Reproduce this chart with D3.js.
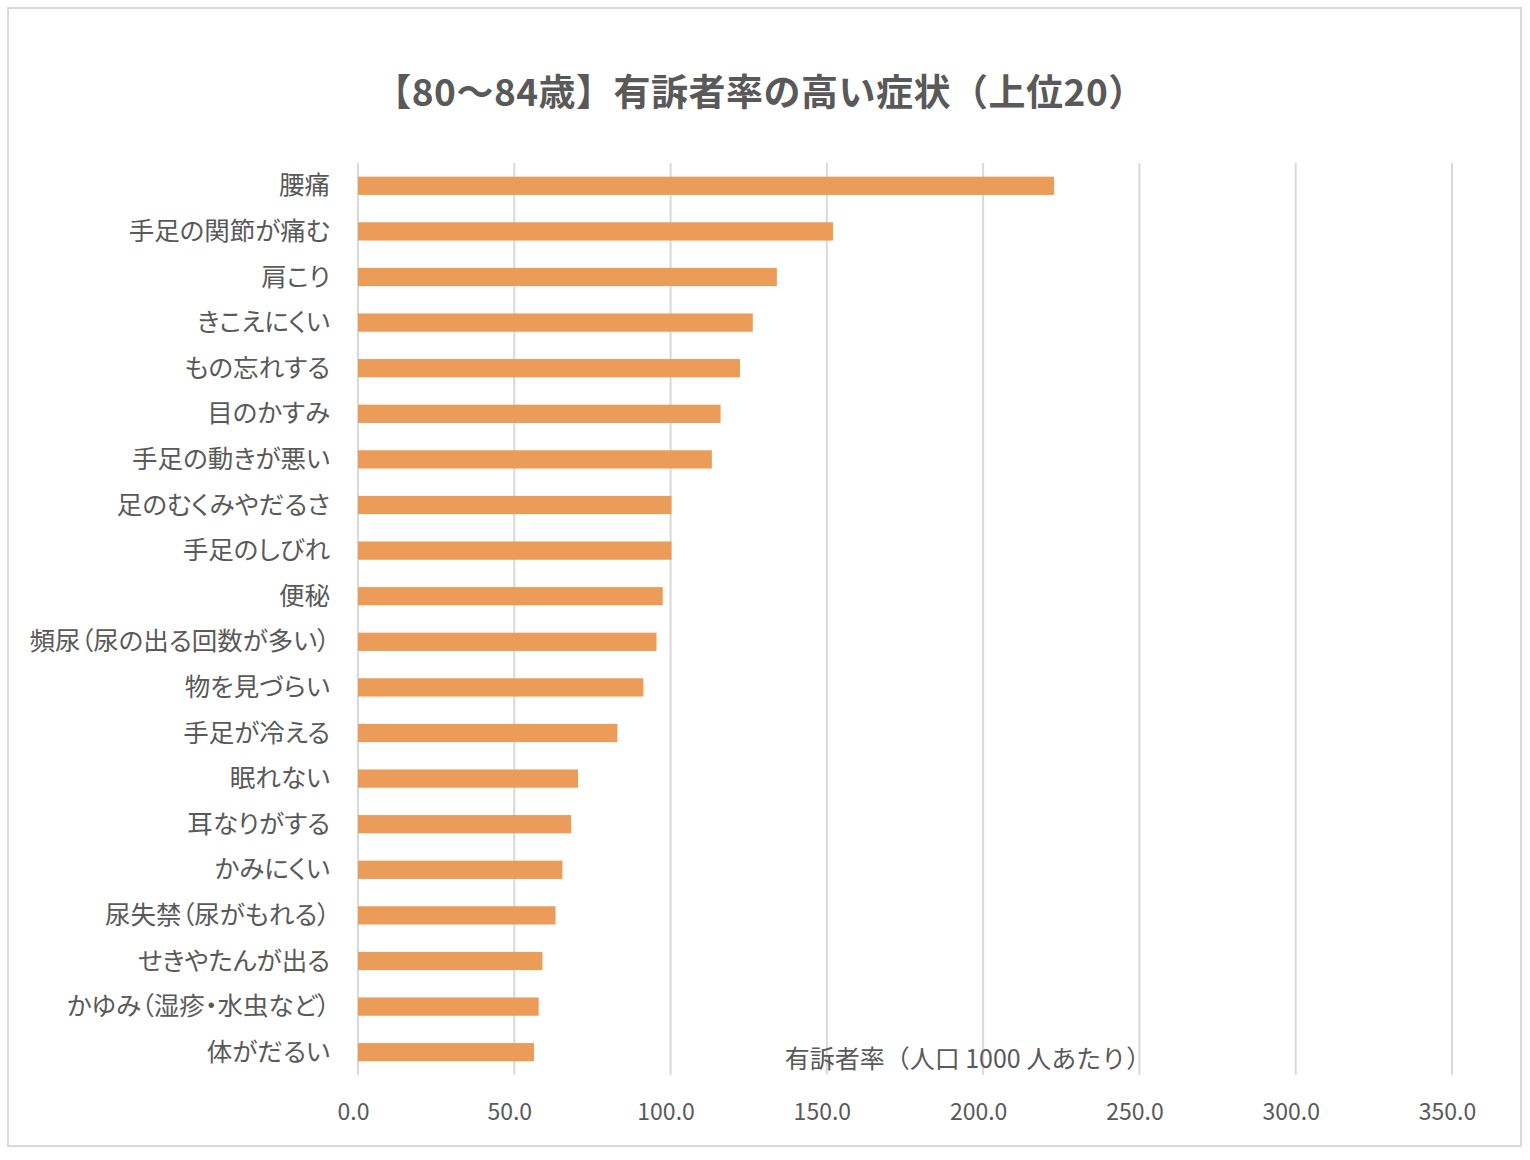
<!DOCTYPE html>
<html>
<head>
<meta charset="utf-8">
<script src="https://cdn.jsdelivr.net/npm/d3@7"></script>
<style>
  body { margin: 0; background: #fff; }
  text { font-family: "Noto Sans CJK JP", "Noto Sans", sans-serif; fill: #595959; }
</style>
</head>
<body>
<div id="chart"></div>
<script>
// data
var symptoms = ["腰痛", "手足の関節が痛む", "肩こり", "きこえにくい", "もの忘れする",
  "目のかすみ", "手足の動きが悪い", "足のむくみやだるさ", "手足のしびれ", "便秘",
  "頻尿（尿の出る回数が多い）", "物を見づらい", "手足が冷える", "眠れない", "耳なりがする",
  "かみにくい", "尿失禁（尿がもれる）", "せきやたんが出る", "かゆみ（湿疹・水虫など）", "体がだるい"];
var rates = [222.7, 152.0, 134.0, 126.3, 122.2, 116.0, 113.2, 100.3, 100.3, 97.5,
  95.5, 91.3, 83.0, 70.4, 68.2, 65.4, 63.2, 59.0, 57.8, 56.3];
var xTicks = [0, 50, 100, 150, 200, 250, 300, 350];
var titleText = "【80～84歳】有訴者率の高い症状（上位20）";
var axisTitle = "有訴者率（人口 1000 人あたり）";

var W = 1530, H = 1160;
var margin = {top: 163, right: 78, bottom: 85, left: 358},
    width = 1452 - margin.left,
    height = 1075 - margin.top;

var svg = d3.select("#chart")
  .append("svg")
    .attr("width", W)
    .attr("height", H);

// chart border
svg.append("rect")
  .attr("x", 8).attr("y", 8)
  .attr("width", 1513).attr("height", 1138)
  .attr("fill", "#fff")
  .attr("stroke", "#d9d9d9")
  .attr("stroke-width", 2);

svg.append("text")
  .attr("x", 760).attr("y", 90)
  .attr("text-anchor", "middle")
  .attr("dominant-baseline", "central")
  .style("font-size", "37px")
  .style("font-weight", "bold")
  .style("letter-spacing", "0.5px")
  .text(titleText);

var g = svg.append("g")
  .attr("transform", "translate(" + margin.left + "," + margin.top + ")");

var x = d3.scaleLinear()
  .domain([0, 350])
  .range([0, width]);

var y = d3.scaleBand()
  .domain(symptoms)
  .range([0, height])
  .paddingInner(0.6)
  .paddingOuter(0.3);

// gridlines
g.append("g")
  .selectAll("line")
  .data(xTicks)
  .enter()
  .append("line")
    .attr("x1", function (d) { return x(d); })
    .attr("x2", function (d) { return x(d); })
    .attr("y1", 0)
    .attr("y2", height)
    .attr("stroke", "#d9d9d9")
    .attr("stroke-width", 2);

// x axis labels
var xAxis = g.append("g")
  .attr("transform", "translate(0," + height + ")")
  .call(d3.axisBottom(x).tickValues(xTicks).tickFormat(d3.format(".1f")).tickSize(0).tickPadding(29));
xAxis.select(".domain").remove();
xAxis.selectAll("text")
  .attr("dx", "-5")
  .style("font-size", "23px")
  .attr("fill", "#595959");

// y axis labels
var yAxis = g.append("g")
  .call(d3.axisLeft(y).tickSize(0).tickPadding(28));
yAxis.select(".domain").remove();
yAxis.selectAll("text")
  .attr("dy", "0.34em")
  .style("font-size", "25.5px")
  .style("font-feature-settings", "'palt'")
  .attr("fill", "#595959");

// bars
g.append("g")
  .selectAll("rect")
  .data(symptoms)
  .enter()
  .append("rect")
    .attr("x", x(0))
    .attr("y", function (d) { return y(d); })
    .attr("width", function (d, i) { return x(rates[i]) - x(0); })
    .attr("height", y.bandwidth())
    .attr("fill", "#ea9c58");

svg.append("text")
  .attr("x", 968).attr("y", 1057)
  .attr("text-anchor", "middle")
  .attr("dominant-baseline", "central")
  .style("font-size", "25px")
  .text(axisTitle);
</script>
</body>
</html>
